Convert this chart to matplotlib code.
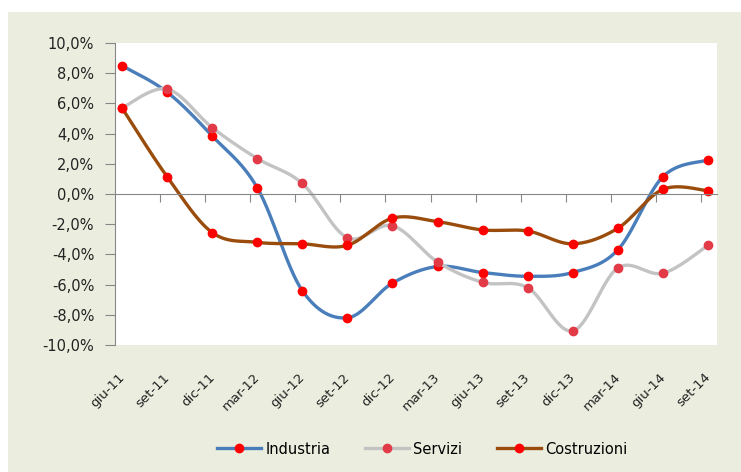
import matplotlib.pyplot as plt
import numpy as np
from matplotlib.patches import Rectangle
from matplotlib.transforms import blended_transform_factory, offset_copy

categories = ['giu-11', 'set-11', 'dic-11', 'mar-12', 'giu-12', 'set-12', 'dic-12',
              'mar-13', 'giu-13', 'set-13', 'dic-13', 'mar-14', 'giu-14', 'set-14']
industria = [8.5, 6.75, 3.85, 0.42, -6.4, -8.2, -5.9, -4.8, -5.2, -5.45, -5.2, -3.7, 1.15, 2.25]
servizi = [5.7, 6.95, 4.4, 2.35, 0.7, -2.9, -2.1, -4.5, -5.85, -6.2, -9.07, -4.9, -5.25, -3.4]
costruzioni = [5.7, 1.15, -2.55, -3.2, -3.3, -3.4, -1.6, -1.83, -2.38, -2.45, -3.3, -2.27, 0.31, 0.22]
yticks = [-10, -8, -6, -4, -2, 0, 2, 4, 6, 8, 10]


def smooth(x, y, n=30):
    # excel-like smoothed line (bezier through the points)
    x = np.asarray(x, float)
    y = np.asarray(y, float)
    px = np.r_[x[0], x, x[-1]]
    py = np.r_[y[0], y, y[-1]]
    t = np.linspace(0, 1, n)[:, None]
    xs, ys = [], []
    for i in range(1, len(px) - 2):
        p0 = np.array([px[i], py[i]])
        p3 = np.array([px[i + 1], py[i + 1]])
        c1 = p0 + (np.array([px[i + 1], py[i + 1]]) - np.array([px[i - 1], py[i - 1]])) / 6
        c2 = p3 - (np.array([px[i + 2], py[i + 2]]) - np.array([px[i], py[i]])) / 6
        b = ((1 - t) ** 3) * p0 + 3 * ((1 - t) ** 2) * t * c1 + 3 * (1 - t) * t ** 2 * c2 + t ** 3 * p3
        xs.append(b[:, 0])
        ys.append(b[:, 1])
    return np.concatenate(xs), np.concatenate(ys)


plt.rcParams['font.family'] = 'DejaVu Sans'
fig = plt.figure(figsize=(7.41, 4.72), dpi=100)
fig.patch.set_facecolor('white')
fig.patches.append(Rectangle((8 / 741, 0), 1, 460 / 472, transform=fig.transFigure,
                             facecolor='#EBEEDF', edgecolor='none', zorder=-10))

ax = fig.add_axes([115 / 741, 127 / 472, 602 / 741, 302 / 472])
ax.set_facecolor('white')

x = np.arange(len(categories))
series = [('Industria', industria, '#4A7EBB', '#FF0000'),
          ('Servizi', servizi, '#C3C3C3', '#E23B47'),
          ('Costruzioni', costruzioni, '#9A4C0C', '#FF0000')]
for name, vals, col, mcol in series:
    sx, sy = smooth(x, vals)
    ax.plot(sx, sy, color=col, lw=2.4, solid_capstyle='round')
    ax.plot(x, vals, ls='none', marker='o', ms=6, mfc=mcol, mec=mcol)
    ax.plot([], [], color=col, lw=2.4, marker='o', ms=6, mfc=mcol, mec=mcol, label=name)

ax.set_xlim(-0.155, 13.2)
ax.set_ylim(-10, 10)
ax.set_yticks(yticks)
ax.set_yticklabels([('%.1f%%' % v).replace('.', ',') for v in yticks])
ax.tick_params(axis='y', length=7, color='#868686', labelsize=10.5, labelcolor='#222222', pad=8)

for s in ['top', 'right']:
    ax.spines[s].set_visible(False)
ax.spines['left'].set_color('#868686')
ax.spines['bottom'].set_position(('data', 0))
ax.spines['bottom'].set_color('#868686')
ax.set_xticks(np.arange(1, 14) - 0.155)
ax.set_xticklabels([])
ax.tick_params(axis='x', length=6, color='#868686', direction='out')

trans = offset_copy(blended_transform_factory(ax.transData, ax.transAxes), fig=fig, x=5, y=0, units='dots')
for i, lab in enumerate(categories):
    ax.text(i, -0.085, lab, transform=trans, rotation=45, ha='right', va='top',
            fontsize=9.5, color='#222222')

fig.legend(loc='center', bbox_to_anchor=(0.57, 23 / 472), ncol=3, frameon=False,
           fontsize=10.5, handlelength=3.0, columnspacing=2.4, handletextpad=0.3)

fig.savefig('out.png', dpi=100)
